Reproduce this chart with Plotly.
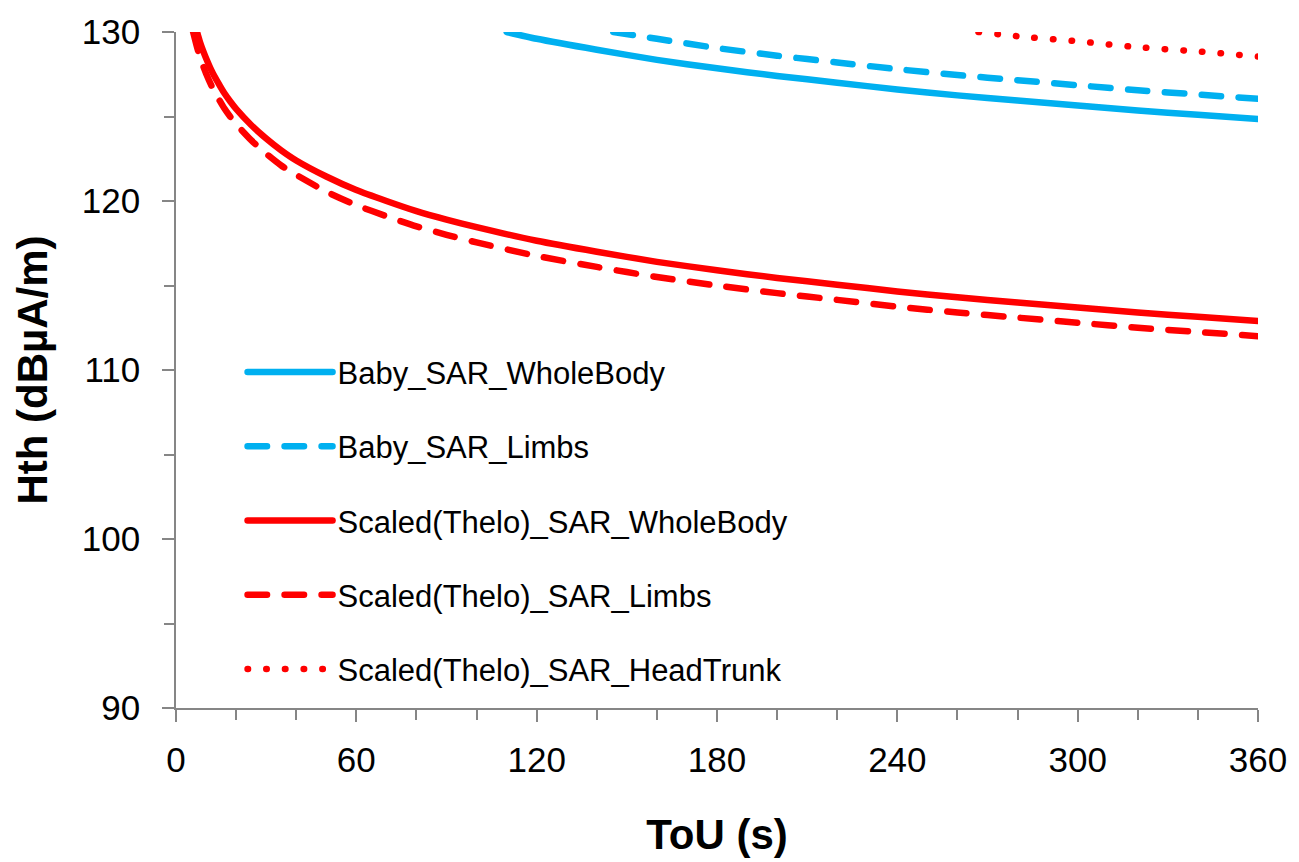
import plotly.graph_objects as go

# ---- data ----
tou_red_wb = [7, 8, 9, 10, 12, 14, 16, 18, 20, 25, 30, 35, 40, 50, 60, 70, 80, 90, 100,
              120, 140, 160, 180, 200, 220, 240, 260, 280, 300, 320, 340, 360]
hth_red_wb = [130.0, 129.4, 128.9, 128.45, 127.65, 127.0, 126.4, 125.9, 125.45, 124.5, 123.7,
              123.0, 122.4, 121.45, 120.65, 120.0, 119.4, 118.9, 118.45, 117.65, 117.0, 116.4,
              115.9, 115.45, 115.05, 114.65, 114.3, 114.0, 113.7, 113.4, 113.15, 112.9]

tou_red_limbs = [5.7, 7, 8, 9, 10, 12, 14, 16, 18, 20, 25, 30, 35, 40, 50, 60, 70, 80, 90, 100,
                 120, 140, 160, 180, 200, 220, 240, 260, 280, 300, 320, 340, 360]
hth_red_limbs = [130.0, 129.1, 128.5, 128.0, 127.55, 126.75, 126.1, 125.5, 125.0, 124.55, 123.6,
                 122.8, 122.1, 121.55, 120.55, 119.75, 119.1, 118.5, 118.0, 117.55, 116.75, 116.1,
                 115.5, 115.0, 114.55, 114.15, 113.75, 113.4, 113.1, 112.8, 112.5, 112.25, 112.0]

tou_red_ht = [267, 280, 300, 320, 340, 360]
hth_red_ht = [130.0, 129.75, 129.45, 129.1, 128.85, 128.55]

tou_baby_wb = [110, 120, 140, 160, 180, 200, 220, 240, 260, 280, 300, 320, 340, 360]
hth_baby_wb = [130.0, 129.6, 128.95, 128.35, 127.85, 127.4, 127.0, 126.6, 126.25, 125.95,
               125.65, 125.35, 125.1, 124.85]

tou_baby_limbs = [145.5, 160, 180, 200, 220, 240, 260, 280, 300, 320, 340, 360]
hth_baby_limbs = [130.0, 129.6, 129.05, 128.6, 128.2, 127.8, 127.45, 127.15, 126.85, 126.55,
                  126.3, 126.05]

x_ticks = [0, 60, 120, 180, 240, 300, 360]
y_ticks = [90, 100, 110, 120, 130]

BLUE = "#00B0F0"
RED = "#FF0000"
FONT = "Liberation Sans, Arial, sans-serif"
LW = 6.5
DASH = "19.5px,17.5px"
DOT = "0.5px,18.2px"

fig = go.Figure()
series = [
    ("Baby_SAR_WholeBody", tou_baby_wb, hth_baby_wb, BLUE, "solid"),
    ("Baby_SAR_Limbs", tou_baby_limbs, hth_baby_limbs, BLUE, DASH),
    ("Scaled(Thelo)_SAR_WholeBody", tou_red_wb, hth_red_wb, RED, "solid"),
    ("Scaled(Thelo)_SAR_Limbs", tou_red_limbs, hth_red_limbs, RED, DASH),
    ("Scaled(Thelo)_SAR_HeadTrunk", tou_red_ht, hth_red_ht, RED, DOT),
]
for i, (name, xs, ys, col, dash) in enumerate(series):
    fig.add_trace(go.Scatter(
        x=xs, y=ys, name=name, mode="lines", legendgroup=f"g{i}",
        line=dict(color=col, width=LW, dash=dash, shape="spline", smoothing=0.6),
    ))

axis_common = dict(
    showline=True, linecolor="#868686", linewidth=1.5,
    ticks="outside", tickcolor="#868686", tickwidth=1.5, ticklen=12,
    showgrid=False, zeroline=False,
    tickfont=dict(family=FONT, size=35, color="#000000"),
)

fig.update_layout(
    width=1299, height=862,
    margin=dict(l=176, r=34, t=27, b=149),
    paper_bgcolor="white", plot_bgcolor="white",
    font=dict(family=FONT, color="#000000"),
    showlegend=True,
    legend=dict(
        x=0.0615, xanchor="left", y=0.277, yanchor="middle",
        font=dict(family=FONT, size=31, color="#000000"),
        itemwidth=85, tracegroupgap=31, traceorder="grouped",
        bgcolor="rgba(0,0,0,0)", borderwidth=0,
    ),
    xaxis=dict(
        range=[0, 360], tickvals=x_ticks, ticktext=[str(v) for v in x_ticks],
        minor=dict(dtick=20, ticklen=10, tickcolor="#868686", tickwidth=1.5, ticks="outside"),
        ticklabelstandoff=8,
        title=dict(text="ToU (s)", font=dict(family=FONT, size=42, weight="bold", color="#000000"),
                   standoff=42),
        **axis_common,
    ),
    yaxis=dict(
        range=[90, 130], tickvals=y_ticks, ticktext=[str(v) for v in y_ticks],
        minor=dict(dtick=5, ticklen=10, tickcolor="#868686", tickwidth=1.5, ticks="outside"),
        ticklabelstandoff=15,
        title=dict(text="Hth (dBµA/m)", font=dict(family=FONT, size=42, weight="bold", color="#000000"),
                   standoff=21),
        **axis_common,
    ),
)

post = ("var s=document.createElement('style');"
        "s.textContent='.js-line{stroke-linecap:round !important;}';"
        "document.head.appendChild(s);"
        "var gd=document.getElementById('{plot_id}');"
        "function rc(){gd.querySelectorAll('path.js-line').forEach(function(p){p.style.strokeLinecap='round';});}"
        "rc();if(gd.on){gd.on('plotly_afterplot',rc);}setTimeout(rc,50);")

fig.write_html("out.html", config={"displayModeBar": False}, post_script=post)
